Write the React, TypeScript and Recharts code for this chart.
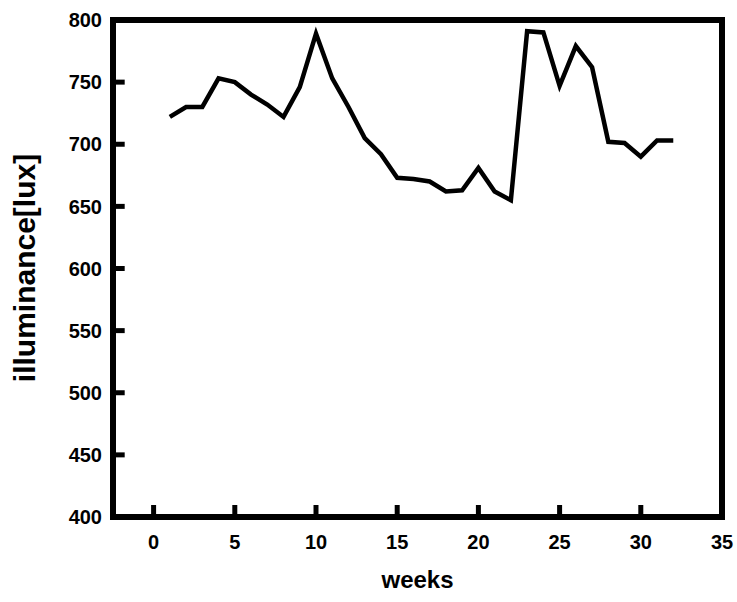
import { LineChart, Line, XAxis, YAxis, ReferenceLine } from 'recharts';

const weeks = [1, 2, 3, 4, 5, 6, 7, 8, 9, 10, 11, 12, 13, 14, 15, 16, 17, 18, 19, 20, 21, 22, 23, 24, 25, 26, 27, 28, 29, 30, 31, 32];
const illuminance = [
  722, 730, 730, 753, 750, 740, 732, 722, 746, 789, 753, 730, 705, 692, 673, 672,
  670, 662, 663, 681, 662, 655, 791, 790, 747, 779, 762, 702, 701, 690, 703, 703,
];
const xTicks = [0, 5, 10, 15, 20, 25, 30, 35];
const yTicks = [400, 450, 500, 550, 600, 650, 700, 750, 800];
const X_MIN = -2.5;
const X_MAX = 35;
const Y_MIN = 400;
const Y_MAX = 800;

const FONT = '"Liberation Sans", Arial, Helvetica, sans-serif';
const X_GAP = 18;
const Y_GAP = 11;
// inward tick length on the y axis, in x units (~12px)
const Y_TICK_UNITS = 0.72;

const FRAME = { stroke: '#000', strokeWidth: 6, strokeLinecap: 'square' as const };

// x ticks point into the plot, so the mark is drawn next to its label
function XTick(props: any) {
  const { x, y, payload } = props;
  const axisY = y - X_GAP;
  return (
    <g>
      <path d={`M${x},${axisY}V${axisY - 12}`} stroke="#000" strokeWidth={5} fill="none" />
      <text x={x} y={y} dy="0.72em" textAnchor="middle" fill="#000" fontSize={20} fontWeight={700} fontFamily={FONT}>
        {payload.value}
      </text>
    </g>
  );
}

function YTick(props: any) {
  const { x, y, payload } = props;
  return (
    <text x={x} y={y} dy="0.36em" textAnchor="end" fill="#000" fontSize={20} fontWeight={700} fontFamily={FONT}>
      {payload.value}
    </text>
  );
}

export default function App() {
  const data = weeks.map((w, i) => ({ week: w, lux: illuminance[i] }));

  return (
    <div style={{ position: 'absolute', left: 0, top: 0, width: 737, height: 602, background: '#fff' }}>
      <LineChart
        width={737}
        height={602}
        data={data}
        margin={{ top: 19, right: 14, left: 0, bottom: 55 }}
      >
        <XAxis
          dataKey="week"
          type="number"
          domain={[X_MIN, X_MAX]}
          ticks={xTicks}
          allowDataOverflow
          height={30}
          axisLine={FRAME}
          tickLine={false}
          tickSize={0}
          tickMargin={X_GAP}
          tick={XTick}
          label={{
            value: 'weeks',
            position: 'bottom',
            offset: 24,
            style: { fill: '#000', fontSize: 24, fontWeight: 700, fontFamily: FONT },
          }}
        />
        <XAxis
          xAxisId="top"
          orientation="top"
          type="number"
          domain={[X_MIN, X_MAX]}
          height={1}
          axisLine={FRAME}
          tickLine={false}
          tick={false}
        />
        <YAxis
          type="number"
          domain={[Y_MIN, Y_MAX]}
          ticks={yTicks}
          allowDataOverflow
          width={113}
          axisLine={FRAME}
          tickLine={false}
          tickSize={0}
          tickMargin={Y_GAP}
          tick={YTick}
        />
        <YAxis
          yAxisId="right"
          orientation="right"
          type="number"
          domain={[Y_MIN, Y_MAX]}
          width={1}
          axisLine={FRAME}
          tickLine={false}
          tick={false}
        />
        {yTicks.slice(1, -1).map((v) => (
          <ReferenceLine
            key={v}
            segment={[
              { x: X_MIN, y: v },
              { x: X_MIN + Y_TICK_UNITS, y: v },
            ]}
            stroke="#000"
            strokeWidth={5}
            strokeOpacity={1}
          />
        ))}
        <Line
          type="linear"
          dataKey="lux"
          stroke="#000"
          strokeWidth={4.5}
          dot={false}
          isAnimationActive={false}
        />
      </LineChart>
      <div
        style={{
          position: 'absolute',
          left: 25,
          top: 268,
          transform: 'translate(-50%, -50%) rotate(-90deg)',
          whiteSpace: 'nowrap',
          fontFamily: FONT,
          fontSize: 30,
          fontWeight: 700,
          lineHeight: 1,
          color: '#000',
        }}
      >
        illuminance[lux]
      </div>
    </div>
  );
}
